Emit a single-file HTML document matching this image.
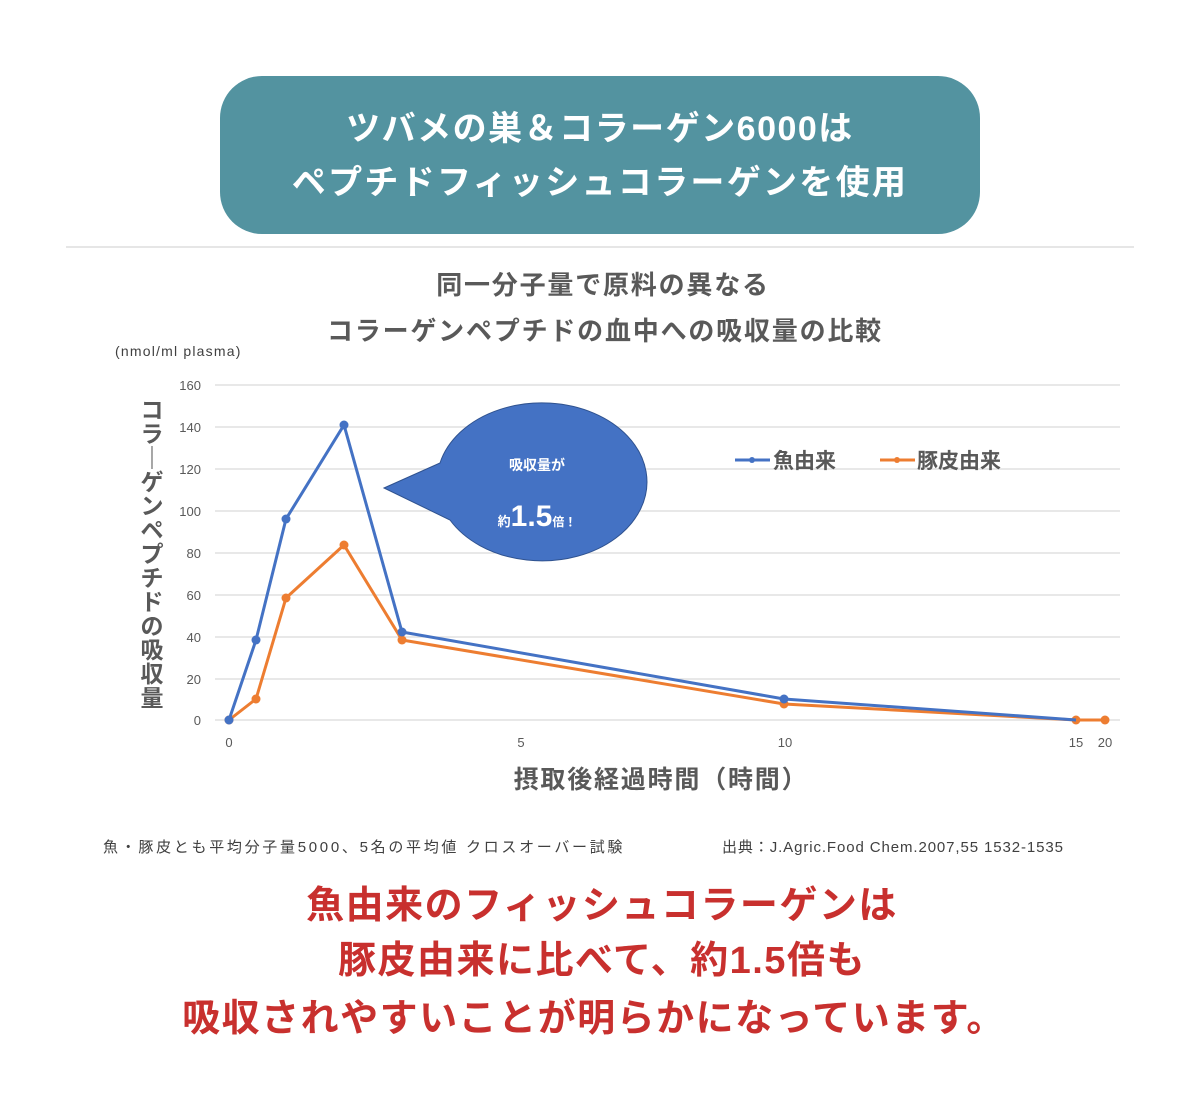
<!DOCTYPE html>
<html><head><meta charset="utf-8"><style>
body{margin:0;background:#fff;}
svg text{font-family:"Liberation Sans","Noto Sans CJK JP",sans-serif;}
</style></head><body>
<svg width="1200" height="1095" viewBox="0 0 1200 1095" xmlns="http://www.w3.org/2000/svg">
<rect width="1200" height="1095" fill="#fff"/>
<rect x="220" y="76" width="760" height="158" rx="42" fill="#5393a0"/>
<text x="600" y="140" text-anchor="middle" font-size="34" font-weight="bold" fill="#fff" letter-spacing="1.5">ツバメの巣＆コラーゲン6000は</text>
<text x="600" y="194" text-anchor="middle" font-size="34" font-weight="bold" fill="#fff" letter-spacing="2.3">ペプチドフィッシュコラーゲンを使用</text>
<line x1="66" y1="247" x2="1134" y2="247" stroke="#ddd" stroke-width="1.5"/>
<text x="603" y="294" text-anchor="middle" font-size="26" font-weight="bold" fill="#595959" letter-spacing="1.8">同一分子量で原料の異なる</text>
<text x="605" y="340" text-anchor="middle" font-size="26" font-weight="bold" fill="#595959" letter-spacing="1.8">コラーゲンペプチドの血中への吸収量の比較</text>
<text x="115" y="356" font-size="14" fill="#404040" letter-spacing="1.2">(nmol/ml plasma)</text>
<g stroke="#d9d9d9" stroke-width="1.2">
<line x1="215" y1="385" x2="1120" y2="385"/><line x1="215" y1="427" x2="1120" y2="427"/>
<line x1="215" y1="469" x2="1120" y2="469"/><line x1="215" y1="511" x2="1120" y2="511"/>
<line x1="215" y1="553" x2="1120" y2="553"/><line x1="215" y1="595" x2="1120" y2="595"/>
<line x1="215" y1="637" x2="1120" y2="637"/><line x1="215" y1="679" x2="1120" y2="679"/>
<line x1="215" y1="720" x2="1120" y2="720"/>
</g>
<g font-size="13" fill="#595959" text-anchor="end">
<text x="201" y="390">160</text><text x="201" y="432">140</text><text x="201" y="474">120</text>
<text x="201" y="516">100</text><text x="201" y="558">80</text><text x="201" y="600">60</text>
<text x="201" y="642">40</text><text x="201" y="684">20</text><text x="201" y="725">0</text>
</g>
<g font-size="13" fill="#595959" text-anchor="middle">
<text x="229" y="747">0</text><text x="521" y="747">5</text><text x="785" y="747">10</text>
<text x="1076" y="747">15</text><text x="1105" y="747">20</text>
</g>
<g font-size="23" font-weight="bold" fill="#595959" text-anchor="middle">
<text x="152" y="418">コ</text><text x="152" y="442">ラ</text><text x="152" y="466">｜</text>
<text x="152" y="490">ゲ</text><text x="152" y="514">ン</text><text x="152" y="538">ペ</text>
<text x="152" y="562">プ</text><text x="152" y="586">チ</text><text x="152" y="610">ド</text>
<text x="152" y="634">の</text><text x="152" y="658">吸</text><text x="152" y="682">収</text>
<text x="152" y="706">量</text>
</g>
<text x="661" y="788" text-anchor="middle" font-size="25" font-weight="bold" fill="#595959" letter-spacing="1.8">摂取後経過時間（時間）</text>
<polyline fill="none" stroke="#ed7d31" stroke-width="3" points="229,720 256,699 286,598 344,545 402,640 784,704 1076,720 1105,720"/>
<g fill="#ed7d31"><circle cx="229" cy="720" r="4.5"/><circle cx="256" cy="699" r="4.5"/><circle cx="286" cy="598" r="4.5"/><circle cx="344" cy="545" r="4.5"/><circle cx="402" cy="640" r="4.5"/><circle cx="784" cy="704" r="4.5"/><circle cx="1076" cy="720" r="4.5"/><circle cx="1105" cy="720" r="4.5"/></g>
<polyline fill="none" stroke="#4472c4" stroke-width="3" points="229,720 256,640 286,519 344,425 402,632 784,699 1076,720"/>
<g fill="#4472c4"><circle cx="229" cy="720" r="4.5"/><circle cx="256" cy="640" r="4.5"/><circle cx="286" cy="519" r="4.5"/><circle cx="344" cy="425" r="4.5"/><circle cx="402" cy="632" r="4.5"/><circle cx="784" cy="699" r="4.5"/></g>
<path d="M384,488 L440,463 A105,79 0 1,1 450,520 Z" fill="#4472c4" stroke="#2f528f" stroke-width="1"/>
<text x="537" y="470" text-anchor="middle" font-size="14" font-weight="bold" fill="#fff">吸収量が</text>
<text x="537" y="526" text-anchor="middle" fill="#fff" font-weight="bold"><tspan font-size="13">約</tspan><tspan font-size="30">1.5</tspan><tspan font-size="12">倍！</tspan></text>
<line x1="735" y1="460" x2="770" y2="460" stroke="#4472c4" stroke-width="3"/><circle cx="752" cy="460" r="3" fill="#4472c4"/>
<text x="773" y="468" font-size="21" font-weight="bold" fill="#595959">魚由来</text>
<line x1="880" y1="460" x2="915" y2="460" stroke="#ed7d31" stroke-width="3"/><circle cx="897" cy="460" r="3" fill="#ed7d31"/>
<text x="917" y="468" font-size="21" font-weight="bold" fill="#595959">豚皮由来</text>
<text x="103" y="852" font-size="15" fill="#404040" letter-spacing="2.7">魚・豚皮とも平均分子量5000、5名の平均値 クロスオーバー試験</text>
<text x="722" y="852" font-size="15" fill="#404040" letter-spacing="0.9">出典：J.Agric.Food Chem.2007,55 1532-1535</text>
<g font-size="38" font-weight="bold" fill="#c8302e" text-anchor="middle" letter-spacing="1.5">
<text x="602" y="918">魚由来のフィッシュコラーゲンは</text>
<text x="602" y="973">豚皮由来に比べて、約1.5倍も</text>
<text x="594" y="1031">吸収されやすいことが明らかになっています。</text>
</g>
</svg>
</body></html>
